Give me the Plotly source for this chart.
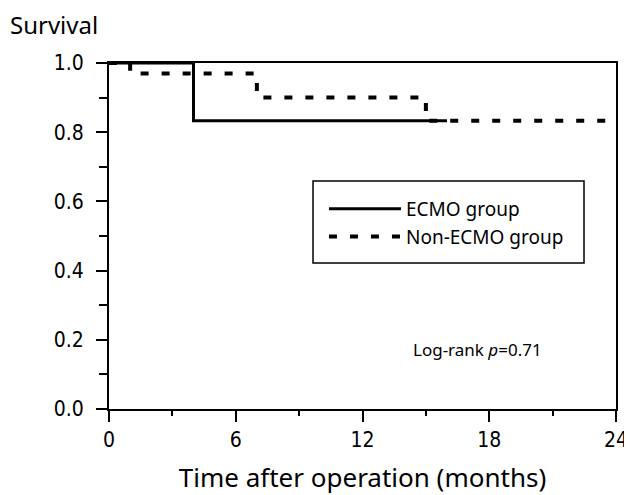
import plotly.graph_objects as go

# Kaplan-Meier step data (months, survival)
ecmo_time = [0, 4, 16]
ecmo_surv = [1.0, 0.833, 0.833]
non_ecmo_time = [0, 1, 7, 15, 24]
non_ecmo_surv = [1.0, 0.97, 0.90, 0.833, 0.833]

x_ticks = [0, 6, 12, 18, 24]
y_ticks = [0.0, 0.2, 0.4, 0.6, 0.8, 1.0]
y_tick_labels = ["0.0", "0.2", "0.4", "0.6", "0.8", "1.0"]

fig = go.Figure()
fig.add_trace(go.Scatter(
    x=ecmo_time, y=ecmo_surv, mode="lines", name="ECMO group",
    line=dict(color="black", width=3, shape="hv"),
))
fig.add_trace(go.Scatter(
    x=non_ecmo_time, y=non_ecmo_surv, mode="lines", name="Non-ECMO group",
    line=dict(color="black", width=4, shape="hv", dash="8px,13px"),
))

tick_font = dict(family="DejaVu Sans Condensed, Noto Sans", size=21, color="black")
fig.update_xaxes(
    range=[0, 24], tickvals=x_ticks, ticktext=[str(v) for v in x_ticks],
    showgrid=False, zeroline=False, automargin=False,
    showline=True, linecolor="black", linewidth=2, mirror=True,
    ticks="outside", ticklen=11, tickwidth=2, tickcolor="black",
    minor=dict(dtick=3, ticks="outside", ticklen=5, tickwidth=2, tickcolor="black", showgrid=False),
    tickfont=tick_font, ticklabelstandoff=0, ticklabeloverflow="allow",
    title=dict(text="Time after operation (months)",
               font=dict(family="Noto Sans", size=26, color="black"), standoff=18),
)
fig.update_yaxes(
    range=[0, 1], tickvals=y_ticks, ticktext=y_tick_labels,
    showgrid=False, zeroline=False, automargin=False,
    showline=True, linecolor="black", linewidth=2, mirror=True,
    ticks="outside", ticklen=11, tickwidth=2, tickcolor="black",
    minor=dict(dtick=0.1, ticks="outside", ticklen=8, tickwidth=2, tickcolor="black", showgrid=False),
    tickfont=tick_font, ticklabelstandoff=8,
)

fig.add_annotation(
    text="Survival", xref="paper", yref="paper", x=-0.197, y=1.1127,
    xanchor="left", yanchor="middle", showarrow=False, borderpad=0,
    font=dict(family="Noto Sans", size=24, color="black"),
)
fig.add_annotation(
    text="Log-rank <i>p</i>=0.71", xref="x", yref="y", x=14.3, y=0.173,
    xanchor="left", yanchor="middle", showarrow=False,
    font=dict(family="Noto Sans", size=17, color="black"),
)

# legend frame
fig.add_shape(
    type="rect", xref="paper", yref="paper",
    x0=0.4024, x1=0.9369, y0=0.422, y1=0.659,
    line=dict(color="black", width=1.5), fillcolor="rgba(0,0,0,0)", layer="below",
)

fig.update_layout(
    width=624, height=487,
    margin=dict(l=101, r=16, t=55, b=86),
    paper_bgcolor="white", plot_bgcolor="white",
    showlegend=True,
    legend=dict(
        x=0.4240, y=0.633, xanchor="left", yanchor="top",
        borderwidth=0, bgcolor="rgba(0,0,0,0)",
        font=dict(family="Noto Sans", size=19, color="black"),
        itemwidth=72,
    ),
)

fig.write_html("out.html")
